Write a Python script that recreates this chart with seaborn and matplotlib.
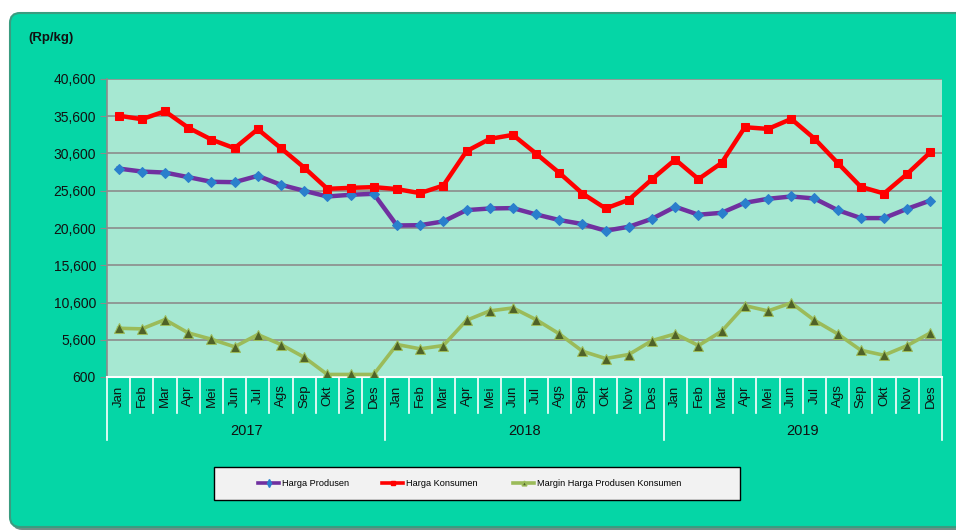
import numpy as np
import pandas as pd
import matplotlib
matplotlib.use("Agg")
import matplotlib.pyplot as plt
import matplotlib.transforms as mtransforms
from matplotlib.patches import FancyBboxPatch, Rectangle
from matplotlib.lines import Line2D
import seaborn as sns

# ---------------- data ----------------
months = ["Jan", "Feb", "Mar", "Apr", "Mei", "Jun", "Jul", "Ags", "Sep", "Okt", "Nov", "Des"]
years = ["2017", "2018", "2019"]

harga_produsen = [28580, 28180, 28040, 27430, 26800, 26750, 27600, 26400, 25590, 24830, 25060, 25190,
                  20940, 20980, 21480, 23000, 23220, 23270, 22420, 21670, 21130, 20230, 20770, 21840,
                  23450, 22380, 22640, 23980, 24520, 24830, 24560, 23000, 21930, 21930, 23180, 24290]
harga_konsumen = [35680, 35200, 36270, 34070, 32470, 31310, 33860, 31310, 28710, 25860, 25990, 26090,
                  25820, 25280, 26300, 30910, 32560, 33100, 30590, 28000, 25230, 23220, 24390, 27160,
                  29790, 27160, 29340, 34130, 33900, 35240, 32600, 29340, 26130, 25230, 27870, 30780]
margin = [7140, 7060, 8300, 6520, 5670, 4650, 6300, 4960, 3250, 940, 940, 940,
          4960, 4380, 4820, 8210, 9470, 9870, 8300, 6390, 4060, 3080, 3620, 5490,
          6390, 4820, 6740, 10180, 9470, 10540, 8210, 6390, 4190, 3520, 4820, 6520]

y_ticks = [600, 5600, 10600, 15600, 20600, 25600, 30600, 35600, 40600]
series_names = ["Harga Produsen", "Harga Konsumen", "Margin Harga Produsen Konsumen"]

month_labels = months * len(years)
df = pd.DataFrame({
    "idx": np.arange(len(month_labels)),
    series_names[0]: harga_produsen,
    series_names[1]: harga_konsumen,
    series_names[2]: margin,
})

# ---------------- figure ----------------
W, H = 956, 530
fig = plt.figure(figsize=(W / 100, H / 100), dpi=100)
fig.patch.set_facecolor("white")

ident = mtransforms.IdentityTransform()
# shadow + rounded teal frame
fig.patches.append(FancyBboxPatch((12, H - 530), 970, 514, boxstyle="round,pad=0,rounding_size=10",
                                  transform=ident, facecolor="#6E8F86", edgecolor="none", zorder=0))
fig.patches.append(FancyBboxPatch((10, H - 527), 970, 514, boxstyle="round,pad=0,rounding_size=10",
                                  transform=ident, facecolor="#05D6A6", edgecolor="#3A9C80",
                                  linewidth=1.5, zorder=1))

FONT = ["Liberation Sans", "DejaVu Sans"]

left, right, top, bottom = 107, 942, 79, 377
ax = fig.add_axes([left / W, 1 - bottom / H, (right - left) / W, (bottom - top) / H])
ax.set_facecolor("#A6E8D2")
ax.set_zorder(2)

sns.lineplot(data=df, x="idx", y=series_names[0], ax=ax, color="#7030A0", linewidth=3.2,
             marker="D", markersize=5.5, markerfacecolor="#2A7FCC", markeredgecolor="#2A7FCC", zorder=4)
sns.lineplot(data=df, x="idx", y=series_names[1], ax=ax, color="#FF0000", linewidth=3.2,
             marker="s", markersize=6, markerfacecolor="#FF0000", markeredgecolor="#FF0000", zorder=5)
sns.lineplot(data=df, x="idx", y=series_names[2], ax=ax, color="#9BBB59", linewidth=2.6,
             marker="^", markersize=6.5, markerfacecolor="#4F6228", markeredgecolor="#9BBB59", zorder=4)

ax.set_xlim(-0.5, len(month_labels) - 0.5)
ax.set_ylim(y_ticks[0], y_ticks[-1])
ax.set_yticks(y_ticks)
ax.set_yticklabels([f"{v:,}" for v in y_ticks], fontsize=10, family=FONT, color="#111111")
ax.tick_params(axis="y", length=5, color="#8C8C8C", pad=3)
ax.set_xticks([])
ax.set_xlabel("")
ax.set_ylabel("")
ax.grid(axis="y", color="#8C8C8C", linewidth=1.2)
ax.set_axisbelow(True)
for s in ["top", "right"]:
    ax.spines[s].set_visible(False)
ax.spines["left"].set_color("#8C8C8C")
ax.spines["left"].set_linewidth(1.2)
ax.spines["bottom"].set_color("white")
ax.spines["bottom"].set_linewidth(1.5)

# category axis (two levels)
ph = bottom - top
xt = ax.get_xaxis_transform()
m_sep = -(413 - bottom) / ph
y_sep = -(440 - bottom) / ph
n = len(month_labels)
for k in range(n + 1):
    if k % 12 == 0:
        ax.plot([k - 0.5, k - 0.5], [0, y_sep], color="white", lw=1.2, transform=xt, clip_on=False)
    else:
        ax.plot([k - 0.5, k - 0.5], [0, m_sep], color="white", lw=1.2, transform=xt, clip_on=False)
for i, m in enumerate(month_labels):
    ax.text(i, -(396 - bottom) / ph, m, rotation=90, ha="center", va="center", transform=xt,
            fontsize=9.5, family=FONT, color="#111111")
for j, yr in enumerate(years):
    ax.text(12 * j + 5.5, -(431 - bottom) / ph, yr, ha="center", va="center", transform=xt,
            fontsize=10.5, family=FONT, color="#111111")

fig.text(28 / W, 1 - 38 / H, "(Rp/kg)", fontsize=9.5, fontweight="bold",
         family=FONT, ha="left", va="center", color="#111111", zorder=3)

# legend box
fig.patches.append(Rectangle((214, H - 500), 526, 33, transform=ident, facecolor="#F2F2F2",
                             edgecolor="black", linewidth=1.0, zorder=3))
handles = [
    Line2D([], [], color="#7030A0", lw=2.6, marker="d", markersize=4, markerfacecolor="#2A7FCC",
           markeredgecolor="#2A7FCC"),
    Line2D([], [], color="#FF0000", lw=2.6, marker="s", markersize=3.5, markerfacecolor="#FF0000"),
    Line2D([], [], color="#9BBB59", lw=2.6, marker="^", markersize=3.5, markerfacecolor="#4F6228",
           markeredgecolor="#9BBB59"),
]
handle_x = [258, 382, 513]
for h, lab, hx in zip(handles, series_names, handle_x):
    lg = fig.legend([h], [lab], loc="center left", bbox_to_anchor=(hx / W, 1 - 484 / H),
                    frameon=False, prop={"family": FONT, "size": 6.6}, handlelength=2.3,
                    handletextpad=0.3, borderpad=0, borderaxespad=0)
    lg.set_zorder(4)

fig.savefig("out.png", dpi=100, facecolor="white")
